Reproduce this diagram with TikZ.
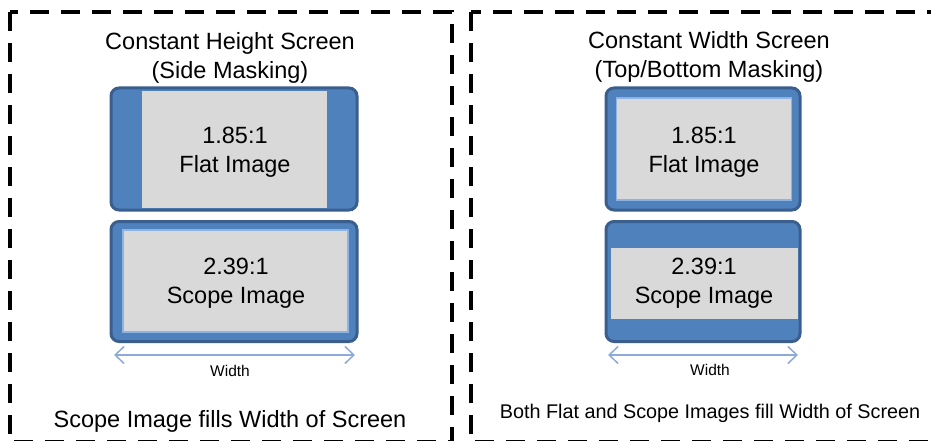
\documentclass[tikz,border=0pt]{standalone}
\usepackage{fontspec}
\setmainfont{Liberation Sans}
\usetikzlibrary{arrows.meta}
\definecolor{maskblue}{HTML}{4F81BD}
\definecolor{edgeblue}{HTML}{3A5F8E}
\definecolor{imggray}{HTML}{D9D9D9}
\definecolor{lineblue}{HTML}{8EAADB}
\definecolor{innerblue}{HTML}{8DB3E2}
\tikzset{
  screen/.style={draw=edgeblue, fill=maskblue, line width=3pt, rounded corners=8pt, inner sep=0pt},
  image/.style={fill=imggray, inner sep=0pt},
  imagelined/.style={image, draw=innerblue, line width=1.2pt},
  imgtext/.style={align=center, inner sep=0pt, font=\fontsize{23.5}{28.5}\selectfont},
  title/.style={align=center, font=\fontsize{23.5}{29}\selectfont, inner sep=0pt},
  caption/.style={font=\fontsize{23.5}{28}\selectfont, inner sep=0pt},
  smallcap/.style={font=\fontsize{19.8}{24}\selectfont, inner sep=0pt},
  widthlbl/.style={font=\fontsize{15.5}{18}\selectfont, inner sep=0pt},
  widtharrow/.style={draw=lineblue, line width=1.5pt, {Straight Barb[length=9pt,width=17pt]}-{Straight Barb[length=9pt,width=17pt]}},
  panel/.style={draw=black, line width=3.3pt, dash pattern=on 19pt off 12pt}
}
\begin{document}
\begin{tikzpicture}[x=1pt,y=-1pt]
\useasboundingbox (0,0) rectangle (931,441);
\clip (0,0) rectangle (931,441);
\fill[white] (0,0) rectangle (931,441);
% dashed panels
\draw[panel] (10,12) rectangle (452,442);
\draw[panel] (471,12) rectangle (945,442);
% titles
\node[title] (t1) at (230,58) {Constant Height Screen\\(Side Masking)};
\node[title] (t2) at (709,57) {Constant Width Screen\\(Top/Bottom Masking)};
% left: constant height
\node[screen, minimum width=246pt, minimum height=122pt] (lf) at (234,149) {};
\node[image, minimum width=185pt, minimum height=117pt] (lfi) at (234.5,149.5) {};
\node[imgtext] (lft) at (235,152) {1.85:1\\Flat Image};
\node[screen, minimum width=246pt, minimum height=120pt] (ls) at (234,281.5) {};
\node[imagelined, minimum width=225pt, minimum height=102pt] (lsi) at (235.5,281) {};
\node[imgtext] (lst) at (236,283) {2.39:1\\Scope Image};
% right: constant width
\node[screen, minimum width=194pt, minimum height=122pt] (rf) at (703,149) {};
\node[imagelined, minimum width=175pt, minimum height=102pt] (rfi) at (704,149) {};
\node[imgtext] (rft) at (704,152) {1.85:1\\Flat Image};
\node[screen, minimum width=194pt, minimum height=120pt] (rs) at (703,281.5) {};
\node[image, minimum width=187pt, minimum height=71pt] (rsi) at (704,283.8) {};
\node[imgtext] (rst) at (704,283) {2.39:1\\Scope Image};
% width arrows
\coordinate (la1) at (114,355);
\coordinate (la2) at (355,355);
\draw[widtharrow] (la1) -- (la2);
\node[widthlbl] (lw) at (230,371) {Width};
\coordinate (ra1) at (608,355);
\coordinate (ra2) at (798,355);
\draw[widtharrow] (ra1) -- (ra2);
\node[widthlbl] (rw) at (710,370) {Width};
% captions
\node[caption] (lc) at (230,421) {Scope Image fills Width of Screen};
\node[smallcap] (rc) at (710,413) {Both Flat and Scope Images fill Width of Screen};
\end{tikzpicture}
\end{document}
